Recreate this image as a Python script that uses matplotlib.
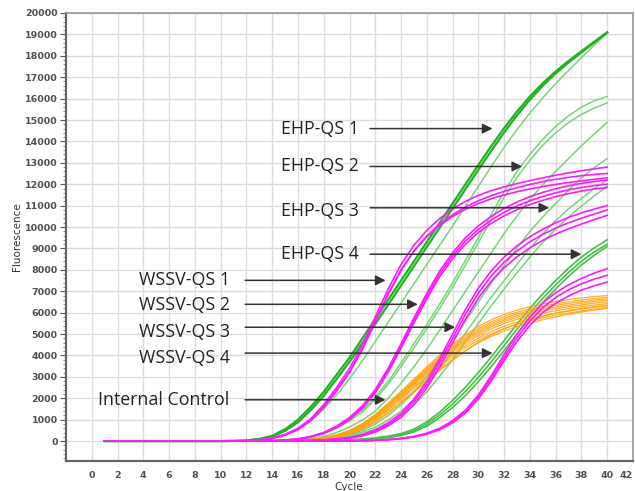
"""qPCR amplification plot: EHP / WSSV quantification standards + internal control."""

import numpy as np
import matplotlib

matplotlib.use("Agg")
import matplotlib.pyplot as plt
from matplotlib.ticker import MultipleLocator

# Fluorescence at cycle 1 and at every cycle from 10 to 40
CYCLES = [1] + list(range(10, 41))

# EHP standards (green)
EHP_QS1 = [
    [0, 0, 10, 30, 100, 250, 550, 1000, 1600, 2300, 3100, 3900, 4800, 5700, 6600, 7500, 8400,
     9300, 10200, 11100, 12000, 12900, 13780, 14620, 15400, 16100, 16720, 17270, 17760, 18210, 18660, 19100],
    [0, 0, 8, 25, 85, 215, 480, 880, 1450, 2120, 2900, 3700, 4580, 5470, 6370, 7270, 8170,
     9070, 9970, 10870, 11770, 12670, 13560, 14420, 15220, 15950, 16600, 17180, 17690, 18160, 18620, 19080],
]
EHP_QS1_THIN = [
    [0, 0, 4, 12, 45, 120, 280, 550, 950, 1500, 2150, 2900, 3750, 4650, 5550, 6450, 7350,
     8250, 9150, 10050, 10970, 11900, 12830, 13720, 14560, 15330, 16040, 16700, 17320, 17910, 18500, 19080],
]
EHP_QS2 = [
    [0, 0, 0, 5, 10, 20, 50, 100, 210, 400, 650, 1000, 1450, 2050, 2800, 3650, 4550,
     5450, 6400, 7400, 8450, 9500, 10600, 11650, 12600, 13400, 14100, 14700, 15200, 15600, 15900, 16100],
    [0, 0, 0, 4, 8, 16, 42, 88, 190, 365, 600, 930, 1360, 1940, 2660, 3480, 4360,
     5260, 6200, 7190, 8230, 9270, 10350, 11390, 12330, 13130, 13820, 14400, 14880, 15260, 15560, 15800],
    [0, 0, 0, 0, 4, 10, 25, 50, 110, 220, 400, 650, 980, 1400, 2000, 2700, 3480,
     4300, 5180, 6100, 7000, 7900, 8800, 9700, 10520, 11300, 11980, 12600, 13200, 13800, 14350, 14900],
]
EHP_QS3 = [
    [0, 0, 0, 0, 0, 5, 10, 20, 50, 100, 180, 300, 500, 800, 1200, 1700, 2300,
     3000, 3830, 4700, 5600, 6500, 7370, 8200, 9020, 9800, 10480, 11100, 11720, 12300, 12780, 13200],
    [0, 0, 0, 0, 0, 4, 8, 15, 40, 80, 150, 250, 420, 650, 980, 1400, 1950,
     2600, 3380, 4200, 5050, 5900, 6720, 7500, 8270, 9000, 9680, 10300, 10850, 11330, 11800, 12200],
    [0, 0, 0, 0, 0, 3, 6, 10, 30, 60, 120, 200, 350, 550, 850, 1200, 1700,
     2300, 3030, 3800, 4650, 5500, 6320, 7100, 7870, 8600, 9280, 9900, 10460, 10980, 11460, 11900],
]
EHP_QS4 = [
    [0, 0, 0, 0, 0, 0, 0, 0, 5, 20, 35, 60, 95, 150, 230, 350, 560,
     900, 1350, 1900, 2520, 3200, 3930, 4700, 5470, 6200, 6880, 7500, 8080, 8600, 9030, 9400],
    [0, 0, 0, 0, 0, 0, 0, 0, 4, 15, 30, 50, 80, 125, 195, 300, 490,
     800, 1220, 1730, 2320, 2980, 3700, 4460, 5230, 5980, 6670, 7300, 7880, 8400, 8840, 9200],
    [0, 0, 0, 0, 0, 0, 0, 0, 3, 10, 22, 40, 65, 100, 160, 260, 430,
     700, 1100, 1570, 2130, 2780, 3480, 4230, 5000, 5760, 6470, 7110, 7700, 8230, 8690, 9100],
]

# WSSV standards (magenta)
WSSV_QS1 = [
    [0, 0, 5, 20, 60, 150, 320, 600, 1050, 1700, 2500, 3400, 4500, 5800, 7100, 8250, 9150,
     9850, 10400, 10850, 11200, 11480, 11700, 11880, 12030, 12170, 12300, 12420, 12530, 12630, 12720, 12800],
    [0, 0, 4, 15, 50, 130, 290, 550, 980, 1600, 2380, 3250, 4330, 5600, 6880, 8000, 8880,
     9550, 10080, 10500, 10830, 11100, 11320, 11500, 11650, 11780, 11890, 11990, 12080, 12160, 12230, 12300],
    [0, 0, 4, 15, 48, 125, 280, 530, 950, 1560, 2330, 3200, 4280, 5550, 6850, 7980, 8880,
     9580, 10130, 10580, 10940, 11230, 11470, 11670, 11840, 11990, 12120, 12230, 12320, 12400, 12460, 12500],
]
WSSV_QS2 = [
    [0, 0, 0, 0, 8, 20, 50, 100, 220, 400, 700, 1100, 1650, 2400, 3400, 4550, 5750,
     6900, 7950, 8800, 9500, 10050, 10500, 10870, 11170, 11420, 11620, 11790, 11930, 12040, 12130, 12200],
    [0, 0, 0, 0, 6, 15, 40, 85, 190, 350, 630, 1000, 1530, 2250, 3220, 4350, 5520,
     6650, 7680, 8520, 9200, 9740, 10170, 10520, 10810, 11050, 11250, 11420, 11560, 11680, 11780, 11850],
    [0, 0, 0, 0, 7, 18, 45, 92, 205, 375, 665, 1050, 1590, 2330, 3310, 4450, 5640,
     6780, 7820, 8660, 9350, 9890, 10330, 10690, 10990, 11230, 11430, 11600, 11740, 11850, 11940, 12000],
]
WSSV_QS3 = [
    [0, 0, 0, 0, 0, 5, 10, 20, 35, 60, 105, 170, 300, 520, 850, 1300, 1950,
     2800, 3850, 5000, 6150, 7150, 7950, 8600, 9120, 9550, 9900, 10200, 10450, 10660, 10840, 11000],
    [0, 0, 0, 0, 0, 4, 8, 16, 30, 50, 90, 150, 270, 470, 780, 1210, 1830,
     2650, 3670, 4800, 5930, 6920, 7720, 8360, 8880, 9310, 9660, 9950, 10200, 10410, 10610, 10800],
    [0, 0, 0, 0, 0, 3, 6, 12, 25, 42, 78, 130, 240, 420, 710, 1110, 1700,
     2480, 3470, 4580, 5700, 6680, 7470, 8100, 8610, 9030, 9380, 9670, 9920, 10140, 10350, 10550],
]
WSSV_QS4 = [
    [0, 0, 0, 0, 0, 0, 0, 0, 0, 0, 0, 10, 20, 40, 75, 130, 220,
     370, 600, 950, 1450, 2150, 3050, 4050, 5000, 5800, 6450, 6930, 7300, 7600, 7850, 8060],
    [0, 0, 0, 0, 0, 0, 0, 0, 0, 0, 0, 9, 18, 36, 68, 120, 205,
     345, 565, 900, 1380, 2060, 2930, 3900, 4830, 5610, 6240, 6710, 7070, 7350, 7570, 7750],
    [0, 0, 0, 0, 0, 0, 0, 0, 0, 0, 0, 8, 16, 32, 62, 110, 190,
     320, 530, 850, 1310, 1970, 2810, 3760, 4660, 5410, 6000, 6440, 6780, 7050, 7260, 7430],
]

# Internal control (orange)
INTERNAL_CONTROL = [
    [0, 0, 0, 0, 5, 10, 20, 40, 85, 160, 290, 500, 820, 1250, 1770, 2330, 2900,
     3470, 4020, 4530, 4980, 5360, 5670, 5920, 6120, 6280, 6410, 6520, 6610, 6690, 6750, 6800],
    [0, 0, 0, 0, 5, 10, 19, 38, 82, 155, 280, 485, 795, 1215, 1725, 2275, 2840,
     3400, 3940, 4440, 4890, 5260, 5570, 5820, 6020, 6180, 6310, 6420, 6510, 6590, 6660, 6720],
    [0, 0, 0, 0, 4, 9, 18, 36, 78, 148, 270, 470, 775, 1190, 1690, 2235, 2790,
     3345, 3880, 4370, 4810, 5180, 5490, 5740, 5940, 6100, 6230, 6340, 6430, 6510, 6590, 6650],
    [0, 0, 0, 0, 4, 9, 17, 35, 75, 142, 260, 455, 750, 1160, 1655, 2190, 2740,
     3290, 3810, 4300, 4730, 5100, 5410, 5660, 5860, 6020, 6150, 6260, 6350, 6440, 6520, 6580],
    [0, 0, 0, 0, 4, 8, 16, 33, 72, 136, 250, 440, 730, 1130, 1615, 2145, 2690,
     3230, 3750, 4230, 4660, 5020, 5330, 5580, 5780, 5940, 6070, 6180, 6270, 6360, 6440, 6500],
    [0, 0, 0, 0, 3, 8, 15, 31, 68, 130, 240, 425, 705, 1095, 1570, 2090, 2630,
     3160, 3670, 4140, 4570, 4930, 5240, 5490, 5690, 5850, 5980, 6090, 6190, 6280, 6360, 6420],
    [0, 0, 0, 0, 3, 7, 14, 29, 63, 120, 225, 400, 670, 1045, 1505, 2015, 2545,
     3070, 3570, 4040, 4460, 4820, 5120, 5370, 5570, 5730, 5860, 5970, 6070, 6170, 6250, 6320],
    [0, 0, 0, 0, 3, 6, 13, 27, 58, 112, 210, 380, 640, 1000, 1450, 1950, 2470,
     2990, 3480, 3940, 4360, 4710, 5010, 5260, 5460, 5620, 5760, 5880, 5980, 6080, 6170, 6240],
    [0, 0, 0, 0, 2, 5, 11, 24, 52, 100, 190, 345, 590, 930, 1360, 1840, 2350,
     2860, 3350, 3810, 4230, 4590, 4890, 5140, 5350, 5520, 5670, 5800, 5920, 6030, 6120, 6200],
    [0, 0, 0, 0, 2, 5, 10, 22, 48, 92, 175, 320, 555, 885, 1300, 1775, 2280,
     2790, 3290, 3770, 4220, 4620, 4960, 5240, 5470, 5660, 5830, 5980, 6100, 6200, 6280, 6350],
]

# Annotation labels: (text, text y, arrow y, arrow tip cycle)
EHP_LABELS = [("EHP-QS 1", 14600, 14600, 31.1), ("EHP-QS 2", 12830, 12830, 33.4),
              ("EHP-QS 3", 10750, 10900, 35.5), ("EHP-QS 4", 8730, 8730, 38.0)]
WSSV_LABELS = [("WSSV-QS 1", 7510, 7510, 22.8), ("WSSV-QS 2", 6350, 6390, 25.3),
               ("WSSV-QS 3", 5090, 5320, 28.2), ("WSSV-QS 4", 3870, 4110, 31.1),
               ("Internal Control", 1910, 1930, 22.8)]

GREEN = "#1fb31f"
GREEN_MID = "#45c245"
GREEN_LIGHT = "#78d478"
MAGENTA = "#ff1aff"
ORANGE = "#ffa20a"


def main():
    fig = plt.figure(figsize=(6.35, 4.91), dpi=100)
    ax = fig.add_axes([66 / 635, 1 - 461 / 491, 567 / 635, 448 / 491])

    x = np.array(CYCLES)

    # green first, orange and magenta drawn over it
    for curve in EHP_QS2 + EHP_QS3 + EHP_QS1_THIN:
        ax.plot(x, curve, color=GREEN_LIGHT, lw=1.1, zorder=2)
    for curve in EHP_QS4:
        ax.plot(x, curve, color=GREEN_MID, lw=1.2, zorder=2)
    for curve in EHP_QS1:
        ax.plot(x, curve, color=GREEN, lw=1.6, zorder=3)

    for curve in INTERNAL_CONTROL:
        ax.plot(x, curve, color=ORANGE, lw=0.9, alpha=0.85, zorder=4)

    for curve in WSSV_QS1 + WSSV_QS2 + WSSV_QS3 + WSSV_QS4:
        ax.plot(x, curve, color=MAGENTA, lw=1.2, zorder=5)

    arrow = dict(arrowstyle="-|>", color="#333333", lw=1.1,
                 mutation_scale=15, shrinkA=0, shrinkB=0)
    font = dict(fontsize=12.8, family="Open Sans", color="#222222", zorder=6)
    for text, ty, ay, tip in EHP_LABELS:
        ax.annotate("", xy=(tip, ay), xytext=(21.6, ay), arrowprops=arrow, zorder=6)
        ax.text(20.7, ty, text, ha="right", va="center", **font)
    for text, ty, ay, tip in WSSV_LABELS:
        ax.annotate("", xy=(tip, ay), xytext=(11.9, ay), arrowprops=arrow, zorder=6)
        ax.text(10.7, ty, text, ha="right", va="center", **font)

    ax.set_xlim(-2, 42)
    ax.set_ylim(-930, 20000)
    ax.set_xticks(np.arange(0, 43, 2))
    ax.xaxis.set_minor_locator(MultipleLocator(1))
    ax.yaxis.set_major_locator(MultipleLocator(1000))
    ax.yaxis.set_minor_locator(MultipleLocator(200))
    ax.grid(True, which="major", color="#dcdcdc", lw=1.0, zorder=0)
    ax.set_axisbelow(True)

    for lbl in ax.get_xticklabels() + ax.get_yticklabels():
        lbl.set_fontsize(6.8)
        lbl.set_fontweight("bold")
        lbl.set_color("#505050")
    ax.get_xticklabels()[-1].set_horizontalalignment("right")
    ax.tick_params(which="major", direction="out", length=4, width=0.8, color="#555555", pad=2)
    ax.tick_params(which="minor", direction="out", length=2, width=0.6, color="#777777")
    ax.tick_params(axis="x", which="both", length=0, pad=7)

    for side in ["left", "bottom"]:
        ax.spines[side].set_color("#666666")
        ax.spines[side].set_linewidth(1.6)
    for side in ["top", "right"]:
        ax.spines[side].set_color("#999999")
        ax.spines[side].set_linewidth(1.2)

    ax.set_ylabel("Fluorescence", fontsize=7.5, color="#333333", labelpad=2)
    ax.set_xlabel("Cycle", fontsize=7.5, color="#333333")
    ax.xaxis.set_label_coords(0.499, -0.046)

    plt.savefig("out.png", dpi=100)
    plt.close()


if __name__ == "__main__":
    main()
